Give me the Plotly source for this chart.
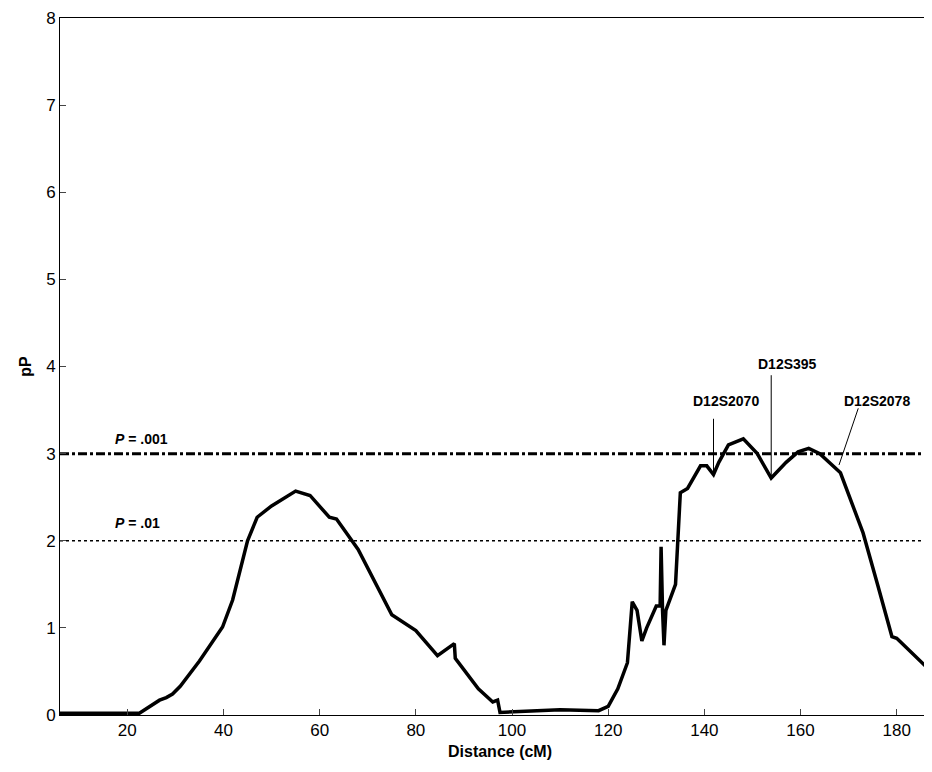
import plotly.graph_objects as go

# linkage scan along chromosome 12
dist_cm = [6, 22, 22.5, 26.7, 28.1, 29.4, 31, 35, 39.8, 41.9, 45, 47, 50, 55, 58, 62, 63.5, 68,
           75, 80, 84.5, 88, 88.2, 93, 96, 97, 97.5, 110, 118, 120, 122, 124, 125, 126, 127,
           128, 130, 130.8, 131, 131.3, 131.6, 132, 133, 134, 135, 136.5, 139.2, 140.5, 141.9,
           143, 145, 148.1, 151, 153.9, 157, 159.5, 161.7, 164, 168.3, 173, 176, 179, 180, 189]
p_score = [0.02, 0.02, 0.02, 0.17, 0.2, 0.24, 0.33, 0.62, 1.01, 1.32, 2.0, 2.27, 2.4, 2.57, 2.52,
           2.27, 2.25, 1.9, 1.15, 0.97, 0.68, 0.82, 0.65, 0.3, 0.15, 0.17, 0.03, 0.06, 0.05, 0.1,
           0.3, 0.6, 1.3, 1.2, 0.85, 1.0, 1.25, 1.25, 1.93, 1.2, 0.8, 1.2, 1.35, 1.5, 2.55, 2.6,
           2.86, 2.86, 2.76, 2.9, 3.1, 3.17, 3.0, 2.72, 2.9, 3.02, 3.06, 3.0, 2.78, 2.09, 1.5,
           0.9, 0.88, 0.4]

markers = ["D12S2070", "D12S395", "D12S2078"]
marker_label_x = [144.4, 157.3, 176]
marker_label_y = [3.6, 4.03, 3.6]
marker_line_x0 = [141.9, 153.9, 172]
marker_line_y0 = [3.4, 3.9, 3.52]
marker_line_x1 = [141.9, 153.9, 168]
marker_line_y1 = [2.8, 2.75, 2.87]

font = "Liberation Sans, Arial, sans-serif"

fig = go.Figure()
fig.add_trace(go.Scatter(x=dist_cm, y=p_score, mode="lines",
                         line=dict(color="black", width=3.5), showlegend=False))
fig.add_trace(go.Scatter(x=[6, 189], y=[3, 3], mode="lines",
                         line=dict(color="black", width=3, dash="dashdot"), showlegend=False))
fig.add_trace(go.Scatter(x=[6, 189], y=[2, 2], mode="lines",
                         line=dict(color="black", width=1.5, dash="dot"), showlegend=False))

for name, lx, ly, x0, y0, x1, y1 in zip(markers, marker_label_x, marker_label_y,
                                        marker_line_x0, marker_line_y0, marker_line_x1, marker_line_y1):
    fig.add_annotation(x=lx, y=ly, text="<b>%s</b>" % name, showarrow=False,
                       font=dict(family=font, size=14, color="black"))
    fig.add_shape(type="line", x0=x0, y0=y0, x1=x1, y1=y1, line=dict(color="black", width=1))

fig.add_annotation(x=17, y=3.17, text="<b><i>P</i> = .001</b>", showarrow=False, xanchor="left",
                   font=dict(family=font, size=14, color="black"))
fig.add_annotation(x=17, y=2.2, text="<b><i>P</i> = .01</b>", showarrow=False, xanchor="left",
                   font=dict(family=font, size=14, color="black"))

fig.update_layout(
    width=932, height=772, plot_bgcolor="white", paper_bgcolor="white",
    margin=dict(l=52, r=0, t=10, b=65),
    font=dict(family=font, size=17, color="black"),
    xaxis=dict(range=[6, 189], tickvals=[20, 40, 60, 80, 100, 120, 140, 160, 180],
               ticks="inside", ticklen=6, showline=True, mirror=True, linecolor="black",
               showgrid=False, zeroline=False, automargin=False,
               title=dict(text="<b>Distance (cM)</b>", standoff=6, font=dict(size=16))),
    yaxis=dict(range=[0, 8], dtick=1, ticks="inside", ticklen=6, showline=True, mirror=True,
               linecolor="black", showgrid=False, zeroline=False, automargin=False,
               title=dict(text="<b>pP</b>", standoff=10, font=dict(size=16))),
)

fig.write_html("out.html")
